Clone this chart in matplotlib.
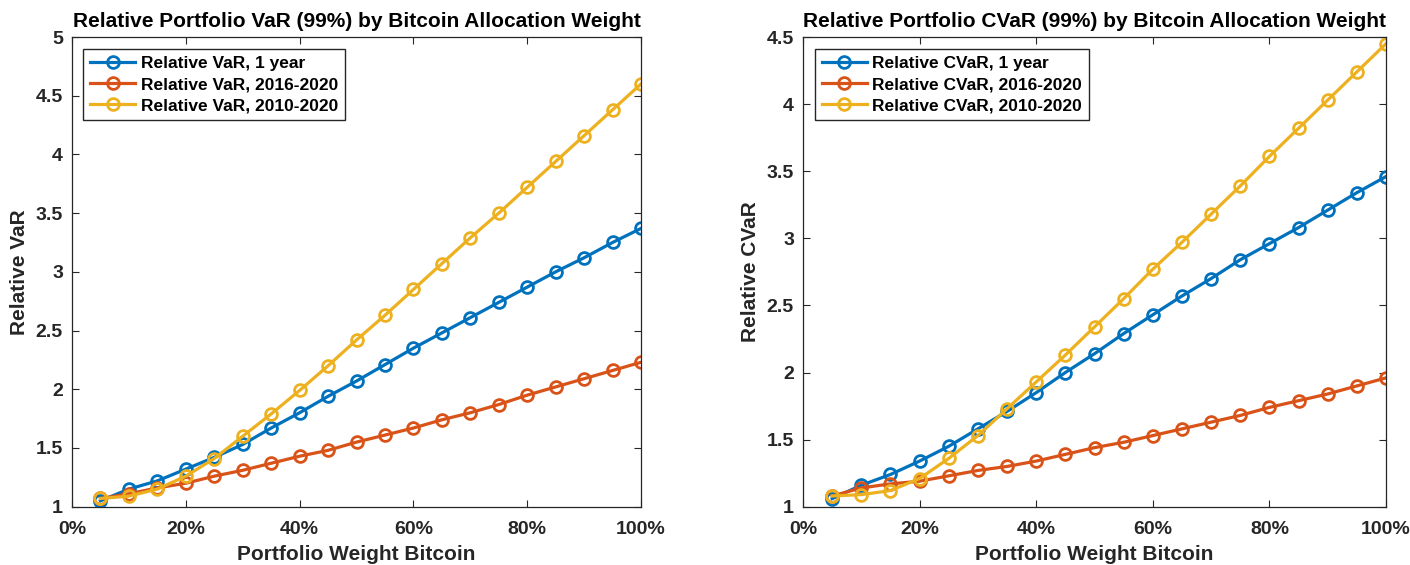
import matplotlib
matplotlib.use("Agg")
import matplotlib.pyplot as plt
from matplotlib.ticker import FuncFormatter, FixedLocator

plt.rcParams['font.family'] = ['Liberation Sans', 'DejaVu Sans']
plt.rcParams['font.weight'] = 'bold'

# Bitcoin allocation weights (fraction of portfolio)
weights = [0.05, 0.10, 0.15, 0.20, 0.25, 0.30, 0.35, 0.40, 0.45, 0.50,
           0.55, 0.60, 0.65, 0.70, 0.75, 0.80, 0.85, 0.90, 0.95, 1.00]

# Relative VaR (99%)
var_1y = [1.05, 1.15, 1.22, 1.32, 1.42, 1.53, 1.67, 1.80, 1.94, 2.07,
          2.21, 2.35, 2.48, 2.61, 2.74, 2.87, 3.00, 3.12, 3.25, 3.37]
var_2016 = [1.07, 1.11, 1.16, 1.20, 1.26, 1.31, 1.37, 1.43, 1.48, 1.55,
            1.61, 1.67, 1.74, 1.80, 1.87, 1.95, 2.02, 2.09, 2.16, 2.23]
var_2010 = [1.07, 1.09, 1.15, 1.26, 1.41, 1.60, 1.79, 1.99, 2.20, 2.42,
            2.63, 2.85, 3.07, 3.29, 3.50, 3.72, 3.94, 4.16, 4.38, 4.60]

# Relative CVaR (99%)
cvar_1y = [1.06, 1.16, 1.24, 1.34, 1.45, 1.58, 1.71, 1.85, 2.00, 2.14,
           2.29, 2.43, 2.57, 2.70, 2.84, 2.96, 3.08, 3.21, 3.34, 3.46]
cvar_2016 = [1.08, 1.14, 1.17, 1.19, 1.23, 1.27, 1.30, 1.34, 1.39, 1.44,
             1.48, 1.53, 1.58, 1.63, 1.68, 1.74, 1.79, 1.84, 1.90, 1.96]
cvar_2010 = [1.08, 1.09, 1.12, 1.21, 1.36, 1.53, 1.73, 1.93, 2.13, 2.34,
             2.55, 2.77, 2.97, 3.18, 3.39, 3.61, 3.82, 4.03, 4.24, 4.45]

x_ticks = [0, 0.2, 0.4, 0.6, 0.8, 1.0]
series_tags = ['1 year', '2016-2020', '2010-2020']
colors = ['#0072BD', '#D95319', '#EDB120']

fig = plt.figure(figsize=(14.10, 5.65), dpi=100)
ax_var = fig.add_axes([72 / 1410, 1 - 506.7 / 565, 569 / 1410, 469.7 / 565])
ax_cvar = fig.add_axes([803 / 1410, 1 - 506.7 / 565, 583 / 1410, 469.7 / 565])


def style_axes(ax, ymax, yticks, title, ylabel, measure, data):
    for vals, tag, c in zip(data, series_tags, colors):
        ax.plot(weights, vals, color=c, lw=2.3, marker='o', ms=8.5,
                mfc='none', mec=c, mew=2.0,
                label=f'Relative {measure}, {tag}')
    ax.set_xlim(0, 1)
    ax.set_ylim(1, ymax)
    ax.xaxis.set_major_locator(FixedLocator(x_ticks))
    ax.xaxis.set_major_formatter(FuncFormatter(lambda v, p: f'{v * 100:.0f}%'))
    ax.yaxis.set_major_locator(FixedLocator(yticks))
    ax.yaxis.set_major_formatter(FuncFormatter(lambda v, p: f'{v:g}'))
    ax.tick_params(direction='in', top=True, right=True, length=5,
                   width=0.8, color='#262626', labelsize=14,
                   labelcolor='#262626')
    ax.tick_params(axis='x', pad=10.5)
    ax.tick_params(axis='y', pad=6.5)
    for lab in ax.get_xticklabels() + ax.get_yticklabels():
        lab.set_fontweight('bold')
    for s in ax.spines.values():
        s.set_color('#262626')
        s.set_linewidth(0.9)
    ax.set_title(title, fontsize=15, fontweight='bold', pad=7)
    ax.set_xlabel('Portfolio Weight Bitcoin', fontsize=15, fontweight='bold',
                  color='#262626', labelpad=5)
    ax.set_ylabel(ylabel, fontsize=15, fontweight='bold', color='#262626',
                  labelpad=5)
    leg = ax.legend(loc='upper left', bbox_to_anchor=(0.02, 0.975),
                    fontsize=12.5, frameon=True, fancybox=False,
                    framealpha=1, edgecolor='#262626', handlelength=2.6,
                    borderpad=0.4, labelspacing=0.35, handletextpad=0.3,
                    borderaxespad=0)
    leg.get_frame().set_linewidth(1.0)
    for t in leg.get_texts():
        t.set_fontweight('bold')


style_axes(ax_var, 5, [1, 1.5, 2, 2.5, 3, 3.5, 4, 4.5, 5],
           'Relative Portfolio VaR (99%) by Bitcoin Allocation Weight',
           'Relative VaR', 'VaR', [var_1y, var_2016, var_2010])
style_axes(ax_cvar, 4.5, [1, 1.5, 2, 2.5, 3, 3.5, 4, 4.5],
           'Relative Portfolio CVaR (99%) by Bitcoin Allocation Weight',
           'Relative CVaR', 'CVaR', [cvar_1y, cvar_2016, cvar_2010])

fig.savefig('out.png', dpi=100, facecolor='white')
